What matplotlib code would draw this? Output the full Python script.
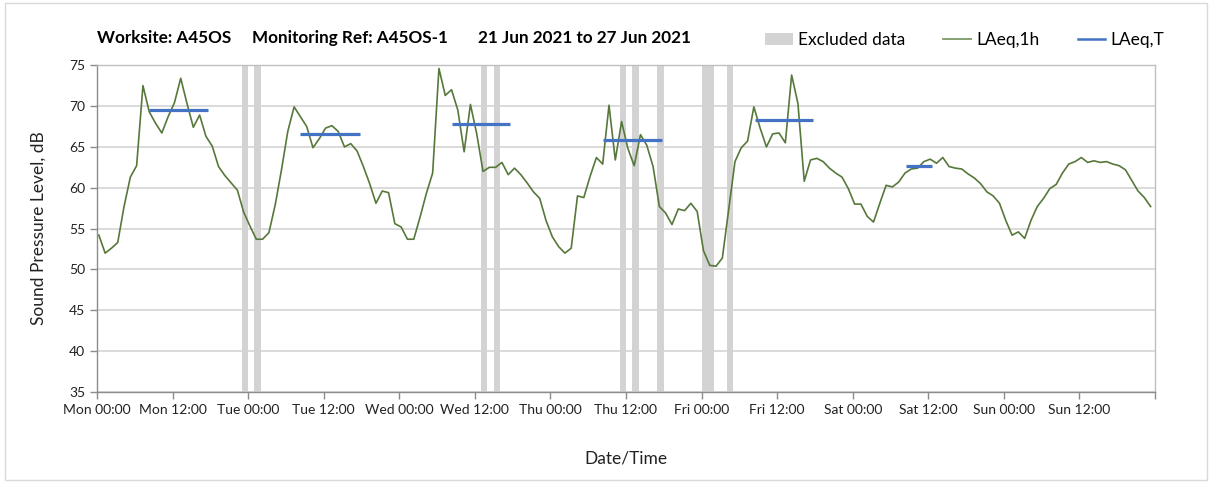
import numpy as np
import matplotlib
matplotlib.use("Agg")
import matplotlib.pyplot as plt
from matplotlib.patches import Patch, Rectangle
from matplotlib.lines import Line2D

plt.rcParams['font.family'] = ['Lato', 'DejaVu Sans']

# hourly LAeq,1h readings, Mon 21 Jun 00:00 onwards (hours from start)
hours = np.arange(168) + 0.3
laeq_1h = [
    54.2, 52.0, 52.6, 53.3, 57.7, 61.3, 62.7, 72.5, 69.3, 67.9, 66.7, 68.7,
    70.4, 73.4, 70.3, 67.4, 68.9, 66.3, 65.1, 62.6, 61.5, 60.6, 59.7, 57.0,
    55.3, 53.7, 53.7, 54.5, 57.9, 62.2, 66.9, 69.9, 68.7, 67.5, 64.9, 66.0,
    67.3, 67.6, 66.9, 65.0, 65.4, 64.5, 62.6, 60.5, 58.1, 59.6, 59.4, 55.6,
    55.2, 53.7, 53.7, 56.4, 59.3, 61.8, 74.6, 71.3, 72.0, 69.5, 64.4, 70.2,
    66.6, 62.0, 62.5, 62.5, 63.1, 61.6, 62.4, 61.6, 60.6, 59.5, 58.7, 56.0,
    54.0, 52.8, 52.0, 52.6, 59.0, 58.8, 61.4, 63.7, 62.9, 70.1, 63.4, 68.1,
    64.8, 62.7, 66.5, 65.2, 62.6, 57.7, 56.9, 55.5, 57.4, 57.2, 58.1, 57.1,
    52.3, 50.5, 50.4, 51.4, 57.3, 63.2, 64.9, 65.7, 69.9, 67.3, 65.0, 66.6,
    66.7, 65.5, 73.8, 70.3, 60.8, 63.4, 63.6, 63.2, 62.4, 61.8, 61.3, 59.9,
    58.0, 58.0, 56.5, 55.8, 58.1, 60.3, 60.1, 60.7, 61.8, 62.3, 62.4, 63.2,
    63.5, 63.0, 63.7, 62.6, 62.4, 62.3, 61.7, 61.2, 60.5, 59.5, 59.0, 58.1,
    56.0, 54.2, 54.6, 53.8, 56.0, 57.7, 58.7, 59.9, 60.4, 61.8, 62.9, 63.2,
    63.7, 63.1, 63.3, 63.1, 63.2, 62.9, 62.7, 62.2, 60.9, 59.6, 58.8, 57.7,
]

# LAeq,T over each working period
laeqt_start = [8.3, 32.3, 56.3, 80.4, 104.5, 128.5]
laeqt_end = [17.6, 41.7, 65.6, 89.7, 113.7, 132.6]
laeqt_level = [69.5, 66.6, 67.8, 65.8, 68.3, 62.7]

# excluded periods (start hour, end hour)
excl_start = [23, 25, 61, 63, 83, 85, 89, 96, 100]
excl_end = [24, 26, 62, 64, 84, 86, 90, 98, 101]

days = ['Mon', 'Tue', 'Wed', 'Thu', 'Fri', 'Sat', 'Sun']

green = '#56783a'
blue = '#4472c4'
grey = '#d3d3d3'

fig = plt.figure(figsize=(12.12, 4.83), dpi=100)
ax = fig.add_axes([0.080, 0.1884, 0.873, 0.6766])

for s, e in zip(excl_start, excl_end):
    ax.axvspan(s, e, color=grey, lw=0, zorder=1)

ax.plot(hours, laeq_1h, color=green, lw=1.2, zorder=3)
for s, e, v in zip(laeqt_start, laeqt_end, laeqt_level):
    ax.plot([s, e], [v, v], color=blue, lw=2.3, zorder=4, solid_capstyle='butt')

ax.set_xlim(0, 168)
ax.set_ylim(35, 75)
ax.set_yticks(np.arange(35, 76, 5))
ticks = np.arange(0, 169, 12)
ax.set_xticks(ticks)
labels = []
for t in ticks[:-1]:
    labels.append(days[t // 24] + (' 00:00' if t % 24 == 0 else ' 12:00'))
labels.append('')
ax.set_xticklabels(labels)
ax.set_xticks(np.arange(24, 168, 24), minor=True)

ax.grid(axis='y', which='major', color='#d4d4d4', lw=1.2, zorder=0)
ax.grid(axis='x', which='minor', color='#dedede', lw=1.2, zorder=0)
ax.set_axisbelow(True)

for sp in ['top', 'right']:
    ax.spines[sp].set_color('#bfbfbf')
    ax.spines[sp].set_linewidth(1.0)
for sp in ['left', 'bottom']:
    ax.spines[sp].set_color('#8c8c8c')
    ax.spines[sp].set_linewidth(1.0)
ax.tick_params(axis='both', which='major', colors='#8c8c8c', length=5, width=1,
               labelcolor='#222222', labelsize=10)
ax.tick_params(axis='x', which='minor', length=0)

ax.set_ylabel('Sound Pressure Level, dB', fontsize=12.5, color='#222222', labelpad=16)
ax.set_xlabel('Date/Time', fontsize=12.5, color='#222222', labelpad=25)

title_y = 1 - 38 / 483
fig.text(97 / 1212, title_y, 'Worksite: A45OS', fontsize=12.3, fontweight='bold', va='center')
fig.text(252 / 1212, title_y, 'Monitoring Ref: A45OS-1', fontsize=12.3, fontweight='bold', va='center')
fig.text(478 / 1212, title_y, '21 Jun 2021 to 27 Jun 2021', fontsize=12.3, fontweight='bold', va='center')

handles = [Patch(facecolor=grey, edgecolor='none'),
           Line2D([], [], color='#7d9a66', lw=1.3),
           Line2D([], [], color=blue, lw=1.8)]
fig.legend(handles, ['Excluded data', 'LAeq,1h', 'LAeq,T'], ncol=3, frameon=False,
           loc='center right', bbox_to_anchor=(1180 / 1212, 1 - 40 / 483),
           fontsize=12.5, handlelength=1.6, handletextpad=0.3, columnspacing=2.2)

fig.patches.append(Rectangle((5 / 1212, 3 / 483), 1202 / 1212, 477 / 483,
                             transform=fig.transFigure, fill=False,
                             edgecolor='#d9d9d9', lw=1))

fig.savefig('out.png', dpi=100)
